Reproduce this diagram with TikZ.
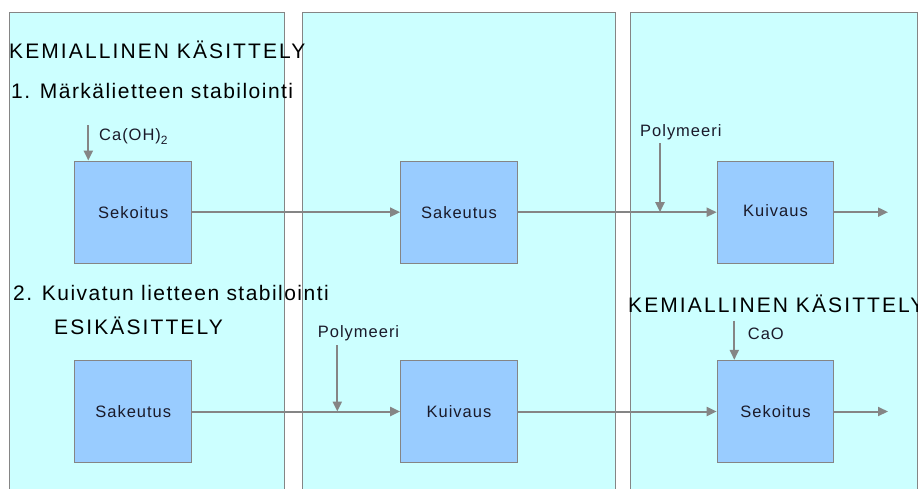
\documentclass[tikz,border=0pt]{standalone}
\usepackage{fontspec}
\setmainfont{Liberation Sans}
\usetikzlibrary{arrows.meta}
\definecolor{panelfill}{HTML}{CCFFFF}
\definecolor{boxfill}{HTML}{99CCFF}
\definecolor{linec}{HTML}{858585}
\definecolor{txt}{HTML}{1A1A2A}
\newfontfamily\lblfont[LetterSpace=6]{Liberation Sans}
\newfontfamily\numfont[LetterSpace=7]{Liberation Sans}
\newfontfamily\ttlfont[LetterSpace=10]{Liberation Sans}
\begin{document}
\begin{tikzpicture}[x=1pt,y=-1pt,
  panel/.style={draw=linec, fill=panelfill, line width=1pt},
  proc/.style={draw=linec, fill=boxfill, line width=1pt, minimum width=116.7pt, minimum height=102.3pt, inner sep=0pt, font=\fontsize{16.5}{19}\lblfont, text=txt},
  flow/.style={draw=linec, line width=2pt, -{Triangle[length=10pt,width=9pt]}},
  lbl/.style={font=\fontsize{16.5}{19}\lblfont, text=txt, inner sep=0pt, anchor=base west},
  numttl/.style={font=\fontsize{21}{24}\numfont, text=black, inner sep=0pt, anchor=base west},
  capttl/.style={font=\fontsize{21}{24}\ttlfont, text=black, inner sep=0pt, anchor=base west},
]
\useasboundingbox (0,0) rectangle (918,488);
\fill[white] (0,0) rectangle (918,488);
% panels
\draw[panel] (9.3,12.3) rectangle (284.5,510);
\draw[panel] (302.3,12.3) rectangle (615,510);
\draw[panel] (630.3,12.3) rectangle (917.5,510);
% titles
\node[capttl] (t1) at (9,58) {KEMIALLINEN KÄSITTELY};
\node[numttl] (t2) at (11,98.3) {1. Märkälietteen stabilointi};
\node[numttl] (t3) at (13,300.7) {2. Kuivatun lietteen stabilointi};
\node[capttl] (t4) at (54,334.3) {ESIKÄSITTELY};
\node[capttl] (t5) at (628,312.3) {KEMIALLINEN KÄSITTELY};
% process boxes
\node[proc] (sek1) at (133.3,212.2) {Sekoitus};
\node[proc] (sak1) at (459,212.2) {Sakeutus};
\node[proc] (kui1) at (775.5,212.2) {\raisebox{4pt}{Kuivaus}};
\node[proc] (sak2) at (133.3,411.5) {Sakeutus};
\node[proc] (kui2) at (459,411.5) {Kuivaus};
\node[proc] (sek2) at (775.5,411.5) {Sekoitus};
% input labels
\node[lbl] (ca) at (99,140) {Ca(OH)\raisebox{-4pt}{\fontsize{12}{14}\selectfont 2}};
\node[lbl] (pol1) at (640,136.7) {Polymeeri};
\node[lbl] (pol2) at (317.7,337.3) {Polymeeri};
\node[lbl] (cao) at (747.7,339.3) {CaO};
% free ends
\coordinate (caS) at (88.3,125);
\coordinate (p1S) at (660,143);
\coordinate (p2S) at (337.3,345);
\coordinate (caoS) at (734.3,320.7);
\coordinate (out1) at (888,212.2);
\coordinate (out2) at (888,411.5);
% flows row 1
\draw[flow] (caS) -- (caS |- sek1.north);
\draw[flow] (sek1.east) -- (sak1.west);
\draw[flow] (sak1.east) -- (kui1.west);
\draw[flow] (p1S) -- (p1S |- sak1.east);
\draw[flow] (kui1.east) -- (out1);
% flows row 2
\draw[flow] (sak2.east) -- (kui2.west);
\draw[flow] (p2S) -- (p2S |- sak2.east);
\draw[flow] (kui2.east) -- (sek2.west);
\draw[flow] (caoS) -- (caoS |- sek2.north);
\draw[flow] (sek2.east) -- (out2);
\end{tikzpicture}
\end{document}
